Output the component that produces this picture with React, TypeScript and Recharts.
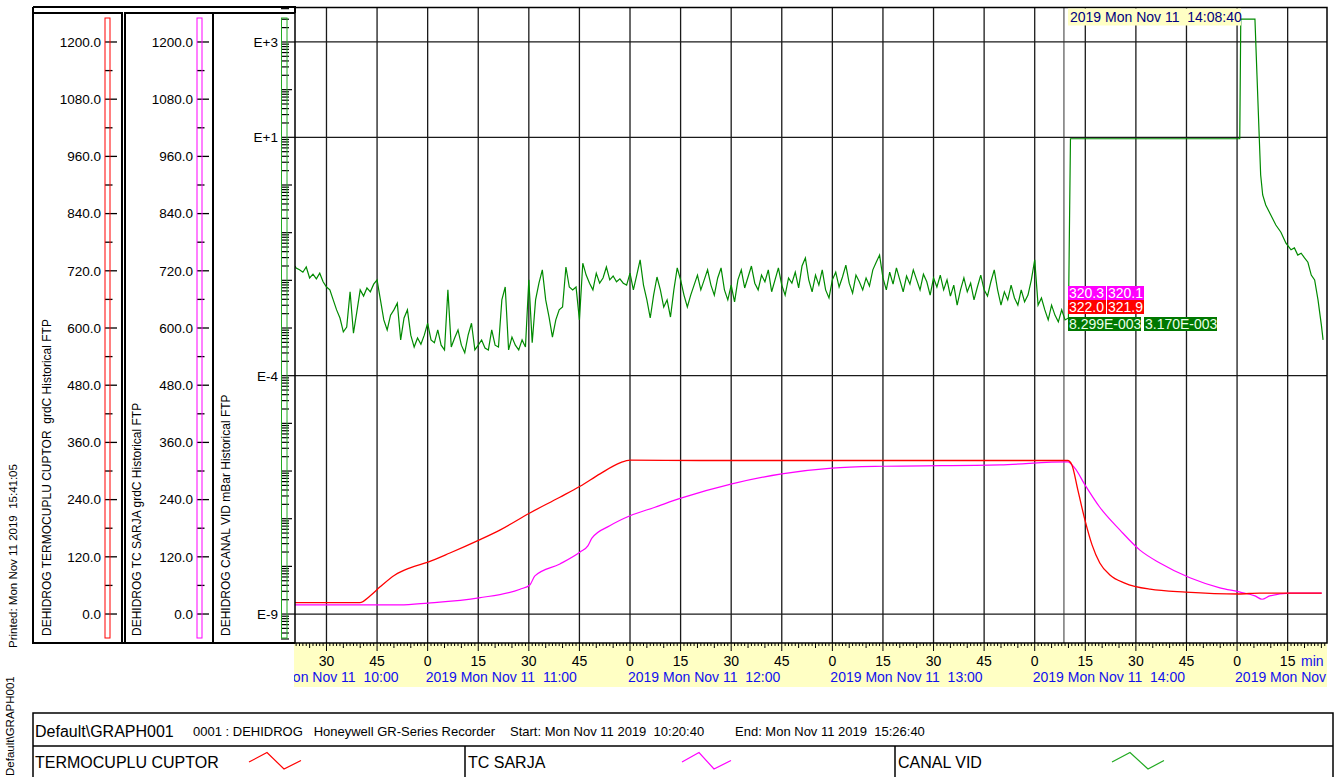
import React from 'react';
import { ComposedChart, Line, XAxis, YAxis, ReferenceLine } from 'recharts';

const FONT = '"Liberation Sans", Arial, Helvetica, sans-serif';

// Time is expressed in minutes after 10:00, Mon Nov 11 2019
const START_MIN = 20 + 40 / 60; // 10:20:40
const END_MIN = 326 + 40 / 60; // 15:26:40
const CURSOR_MIN = 248 + 40 / 60; // 14:08:40

// TERMOCUPLU CUPTOR (grdC)
const redTimes = [20.67, 39.9, 42.9, 45.9, 50.3, 54.8, 60.1, 66.6, 75.2, 81.4, 90.3, 99.2, 105.2, 111.1, 117.0, 120.0, 140.7, 200, 249.8, 251.0, 252.8, 254.9, 257.0, 259.3, 262.3, 266.7, 274.2, 284.8, 300.3, 306.8, 315.7, 325.1];
const redValues = [24, 24, 38, 57, 82, 97, 109, 128, 155, 176, 212, 245, 268, 294, 317, 323, 322, 322, 322, 313, 260, 197, 145, 107, 82, 65, 52, 46, 42, 44, 44, 44];

// TC SARJA (grdC)
const sarjaTimes = [20.67, 51.8, 60.1, 75.2, 87.4, 90.3, 91.8, 99.2, 105.2, 107.5, 108.7, 114.0, 120.0, 127.4, 135.1, 150.2, 165.0, 179.9, 195.3, 229.7, 249.8, 251.9, 254.9, 259.3, 265.3, 271.2, 277.1, 286.0, 294.9, 300.9, 305.3, 307.4, 309.7, 315.7, 325.1];
const sarjaValues = [19, 19, 23, 34, 52, 61, 80, 105, 130, 143, 159, 185, 206, 224, 243, 273, 294, 306, 310, 313, 319, 306, 271, 224, 176, 134, 107, 76, 55, 46, 38, 31, 38, 44, 44];

// CANAL VID (mBar), stored as decimal exponents (log10 of mBar)
const vacHeadTimes = [20.67];
const vacHeadExp = [-1.70];
const vacMinuteFirst = 21; // one reading per minute from 10:21 to 14:09
const vacMinuteExp = [
  -1.74, -1.78, -1.83, -1.72, -1.95, -1.87, -1.97, -1.85, -2.03, -2.14,
  -2.20, -2.41, -2.62, -2.79, -3.08, -2.98, -2.24, -3.11, -2.66, -2.20,
  -2.33, -2.16, -2.24, -2.08, -1.99, -2.41, -2.83, -3.04, -2.73, -2.62,
  -2.48, -3.25, -2.79, -2.62, -3.15, -3.40, -3.21, -3.34, -3.15, -2.90,
  -3.25, -3.31, -3.04, -3.36, -3.46, -2.20, -3.40, -3.21, -3.04, -3.36,
  -3.52, -3.15, -2.90, -3.46, -3.36, -3.25, -3.42, -3.46, -3.04, -3.36,
  -3.40, -2.41, -2.14, -3.46, -3.19, -3.36, -3.46, -3.25, -3.40, -1.99,
  -3.31, -2.41, -2.06, -1.78, -2.41, -2.77, -3.19, -2.83, -2.62, -2.56,
  -1.72, -2.14, -2.20, -2.14, -2.83, -1.64, -1.89, -2.06, -2.20, -1.85,
  -2.06, -1.95, -1.72, -1.99, -1.91, -2.03, -1.97, -2.06, -2.10, -1.85,
  -2.20, -1.89, -1.57, -2.10, -2.41, -2.79, -2.31, -1.93, -2.20, -2.56,
  -2.41, -2.77, -2.20, -1.74, -1.99, -2.31, -2.56, -2.31, -2.10, -1.89,
  -2.20, -1.99, -1.78, -2.10, -2.31, -1.95, -1.74, -2.20, -2.41, -2.10,
  -2.45, -1.99, -1.78, -2.16, -1.93, -1.70, -2.06, -2.20, -1.89, -2.03,
  -1.78, -2.24, -1.99, -1.74, -2.10, -2.31, -1.95, -2.06, -1.83, -2.16,
  -1.70, -1.53, -1.99, -2.24, -1.89, -2.10, -1.78, -2.20, -2.37, -1.99,
  -1.83, -2.14, -1.93, -1.68, -2.06, -2.27, -1.89, -2.03, -2.20, -1.95,
  -2.12, -1.78, -1.62, -1.47, -1.95, -2.20, -1.83, -2.08, -1.74, -1.99,
  -2.24, -1.91, -2.08, -1.78, -1.99, -2.20, -1.87, -2.03, -2.31, -1.95,
  -2.14, -1.89, -2.20, -1.99, -2.33, -2.10, -2.52, -2.20, -1.95, -2.24,
  -2.06, -2.41, -2.14, -1.89, -2.20, -2.33, -2.03, -1.78, -2.20, -2.52,
  -2.24, -2.41, -2.10, -2.37, -2.52, -2.20, -2.45, -2.31, -1.99, -1.57,
  -2.52, -2.37, -2.62, -2.83, -2.52, -2.73, -2.87, -2.62, -2.83,
];
const vacTailTimes = [250, 250.6, 300.8, 301.1, 305.3, 305.9, 306.5, 307, 307.6, 308.5, 310, 311.5, 313, 314.5, 316, 317, 318, 319, 320, 321, 322, 323, 324, 325, 325.5];
const vacTailExp = [-2.79, 0.97, 0.97, 3.48, 3.48, 2.31, 1.15, 0.21, -0.21, -0.42, -0.63, -0.84, -0.99, -1.22, -1.36, -1.32, -1.47, -1.43, -1.53, -1.62, -1.89, -1.99, -2.41, -2.94, -3.25];

// Axis tick values / labels
const tempMajorTicks = [0, 120, 240, 360, 480, 600, 720, 840, 960, 1080, 1200];
const tempMinorTicks = [60, 180, 300, 420, 540, 660, 780, 900, 1020, 1140];
const vacLabelValues = [1e3, 1e1, 1e-4, 1e-9];
const vacLabelText = ['E+3', 'E+1', 'E-4', 'E-9'];
const gridMinutes = [30, 45, 60, 75, 90, 105, 120, 135, 150, 165, 180, 195, 210, 225, 240, 255, 270, 285, 300, 315];
const hourLabels = ['2019 Mon Nov 11  10:00', '2019 Mon Nov 11  11:00', '2019 Mon Nov 11  12:00', '2019 Mon Nov 11  13:00', '2019 Mon Nov 11  14:00', '2019 Mon Nov 11  15:00'];
const cursorLabel = '2019 Mon Nov 11  14:08:40';
const cursorSarja = ['320.3', '320.1'];
const cursorRed = ['322.0', '321.9'];
const cursorVac = ['8.299E-003', '3.170E-003'];

const RED = '#ff0000';
const MAG = '#ff00ff';
const GREEN = '#008a00';

// axis ids (alphabetical order = from the plot outwards)
const VAC = 'a_vac';
const SARJA = 'b_sarja';
const CUPTOR = 'c_cuptor';

const redData = redTimes.map((t, i) => ({ t, v: redValues[i] }));
const sarjaData = sarjaTimes.map((t, i) => ({ t, v: sarjaValues[i] }));
const vacData = [
  ...vacHeadTimes.map((t, i) => ({ t, v: Math.pow(10, vacHeadExp[i]) })),
  ...vacMinuteExp.map((e, i) => ({ t: vacMinuteFirst + i, v: Math.pow(10, e) })),
  ...vacTailTimes.map((t, i) => ({ t, v: Math.pow(10, vacTailExp[i]) })),
];

const tempTicks = [...tempMajorTicks, ...tempMinorTicks].sort((a, b) => a - b);
const vacTicks: number[] = [];
for (let n = -10; n <= 3; n++) {
  for (let k = 1; k <= 9; k++) {
    const v = k * Math.pow(10, n);
    if (v >= 2.47e-10 && v <= 5160) vacTicks.push(v);
  }
}
const minuteTicks: number[] = [];
for (let m = 21; m <= 326; m++) minuteTicks.push(m);

const makeTempTick = (rectOffset: number, labelOffset: number) => (props: any) => {
  const { x, y, payload } = props;
  const v = payload.value as number;
  const major = tempMajorTicks.indexOf(v) >= 0;
  const x0 = x - rectOffset;
  return (
    <g>
      <line x1={x0} x2={x0 + (major ? 12 : 7.5)} y1={y} y2={y} stroke="#000" strokeWidth={1.3} />
      {major && (
        <text x={x - labelOffset} y={y} dy="0.36em" textAnchor="end" fontSize={13.5} fontFamily={FONT} fill="#000">
          {v.toFixed(1)}
        </text>
      )}
    </g>
  );
};

const VacTick = (props: any) => {
  const { x, y, payload } = props;
  const v = payload.value as number;
  const idx = vacLabelValues.findIndex((l) => Math.abs(l - v) / l < 1e-6);
  const lg = Math.log10(v);
  const decade = Math.abs(lg - Math.round(lg)) < 1e-6;
  const x0 = x - 14;
  return (
    <g>
      <line x1={x0} x2={x0 + (decade ? 11 : 8)} y1={y} y2={y} stroke="#000" strokeWidth={1.2} />
      {idx >= 0 && (
        <g>
          <line x1={x0 + 11} x2={x} y1={y} y2={y} stroke="#000" strokeWidth={1.2} strokeDasharray="3 2" />
          <text x={x - 17} y={y} dy="0.36em" textAnchor="end" fontSize={13.5} fontFamily={FONT} fill="#000">
            {vacLabelText[idx]}
          </text>
        </g>
      )}
    </g>
  );
};

const TimeTick = (props: any) => {
  const { x, y, payload } = props;
  const t = Math.round(payload.value as number);
  const m = t % 60;
  const len = m % 15 === 0 ? 8 : m % 5 === 0 ? 5 : 3;
  return (
    <g>
      <line x1={x} x2={x} y1={y} y2={y + len} stroke="#000" strokeWidth={1} />
      {m % 15 === 0 && (
        <text x={x} y={y + 23} textAnchor="middle" fontSize={14} fontFamily={FONT} fill="#000">
          {m}
        </text>
      )}
      {m === 0 && (
        <text x={x - 2} y={y + 39} fontSize={14} fontFamily={FONT} fill="#1010ee" style={{ whiteSpace: 'pre' }} clipPath="url(#timeBandClip)">
          {hourLabels[t / 60]}
        </text>
      )}
      {t === 30 && (
        <text x={x + 72} y={y + 39} textAnchor="end" fontSize={14} fontFamily={FONT} fill="#1010ee" style={{ whiteSpace: 'pre' }} clipPath="url(#timeBandClip)">
          {hourLabels[0]}
        </text>
      )}
    </g>
  );
};

const RotText = ({ x, y, size, children }: { x: number; y: number; size: number; children: string }) => (
  <text
    x={0}
    y={0}
    transform={`translate(${x},${y}) rotate(-90)`}
    fontSize={size}
    fontFamily={FONT}
    fill="#000"
    dominantBaseline="central"
    style={{ whiteSpace: 'pre' }}
  >
    {children}
  </text>
);

export default function App() {
  return (
    <div style={{ position: 'absolute', left: 0, top: 0, width: 1339, height: 777, background: '#fff', overflow: 'hidden', fontFamily: FONT }}>
      <svg width={1339} height={777} style={{ position: 'absolute', left: 0, top: 0 }}>
        <defs>
          <clipPath id="timeBandClip">
            <rect x={294} y={643} width={1033} height={44} />
          </clipPath>
        </defs>
        <rect x={294} y={643} width={1033} height={44} fill="#ffffc4" />
      </svg>
      <div style={{ position: 'absolute', left: 0, top: 0 }}>
        <ComposedChart width={1339} height={777} margin={{ top: 8, right: 12, bottom: 90, left: 0 }}>
          <XAxis
            dataKey="t"
            type="number"
            domain={[START_MIN, END_MIN]}
            allowDataOverflow
            ticks={minuteTicks}
            interval={0}
            height={44}
            tickSize={0}
            tickMargin={0}
            tickLine={false}
            axisLine={false}
            tick={TimeTick}
          />
          <YAxis
            yAxisId={VAC}
            orientation="left"
            width={81}
            type="number"
            scale="log"
            domain={[2.47e-10, 5160]}
            allowDataOverflow
            ticks={vacTicks}
            interval={0}
            tickSize={0}
            tickMargin={0}
            tickLine={false}
            axisLine={false}
            tick={VacTick}
          />
          <YAxis
            yAxisId={SARJA}
            orientation="left"
            width={89}
            type="number"
            domain={[-60.8, 1271.3]}
            allowDataOverflow
            ticks={tempTicks}
            interval={0}
            tickSize={0}
            tickMargin={0}
            tickLine={false}
            axisLine={false}
            tick={makeTempTick(17, 21)}
          />
          <YAxis
            yAxisId={CUPTOR}
            orientation="left"
            width={125}
            type="number"
            domain={[-60.8, 1271.3]}
            allowDataOverflow
            ticks={tempTicks}
            interval={0}
            tickSize={0}
            tickMargin={0}
            tickLine={false}
            axisLine={false}
            tick={makeTempTick(20, 24)}
          />
          {gridMinutes.map((m) => (
            <ReferenceLine key={'g' + m} x={m} yAxisId={VAC} stroke="#1a1a1a" strokeWidth={1.3} />
          ))}
          {vacLabelValues.map((v) => (
            <ReferenceLine key={'h' + v} y={v} yAxisId={VAC} stroke="#1a1a1a" strokeWidth={1.3} />
          ))}
          <ReferenceLine x={CURSOR_MIN} yAxisId={VAC} stroke="#333" strokeWidth={1} />
          <Line data={vacData} dataKey="v" yAxisId={VAC} type="linear" stroke={GREEN} strokeWidth={1.2} dot={false} isAnimationActive={false} />
          <Line data={sarjaData} dataKey="v" yAxisId={SARJA} type="monotone" stroke={MAG} strokeWidth={1.2} dot={false} isAnimationActive={false} />
          <Line data={redData} dataKey="v" yAxisId={CUPTOR} type="monotone" stroke={RED} strokeWidth={1.3} dot={false} isAnimationActive={false} />
        </ComposedChart>
      </div>
      <svg width={1339} height={777} style={{ position: 'absolute', left: 0, top: 0, pointerEvents: 'none' }}>
        {/* left panel frames */}
        <path d="M33,7 H295 V13" fill="none" stroke="#000" strokeWidth={2} />
        <rect x={33} y={13} width={89} height={630} fill="none" stroke="#000" strokeWidth={2} />
        <rect x={125} y={13} width={88} height={630} fill="none" stroke="#000" strokeWidth={2} />
        <path d="M213,13 H295 M33,643 H295" fill="none" stroke="#000" strokeWidth={2} />
        <line x1={33} x2={33} y1={7} y2={13} stroke="#000" strokeWidth={2} />
        {/* axis colour columns */}
        <rect x={105} y={18} width={5} height={620} fill="none" stroke={RED} strokeWidth={1} />
        <rect x={197} y={18} width={5} height={620} fill="none" stroke={MAG} strokeWidth={1} />
        <rect x={281.5} y={18} width={5.5} height={620} fill="none" stroke="#22aa22" strokeWidth={1} />
        {/* rotated axis titles */}
        <RotText x={46.5} y={636} size={12}>{'DEHIDROG TERMOCUPLU CUPTOR  grdC Historical FTP'}</RotText>
        <RotText x={136.5} y={636} size={12}>{'DEHIDROG TC SARJA grdC Historical FTP'}</RotText>
        <RotText x={226} y={636} size={12}>{'DEHIDROG CANAL VID mBar Historical FTP'}</RotText>
        <RotText x={12.5} y={648} size={11.5}>{'Printed: Mon Nov 11 2019  15:41:05'}</RotText>
        <RotText x={10} y={776} size={11.5}>{'Default\\GRAPH001'}</RotText>
        {/* plot frame */}
        <rect x={295} y={7.5} width={1032} height={635.5} fill="none" stroke="#000" strokeWidth={1.5} />
        {/* cursor label */}
        <rect x={1068} y={8.5} width={173} height={17} fill="#ffffc4" />
        <text x={1070} y={22} fontSize={14} fontFamily={FONT} fill="#000080" style={{ whiteSpace: 'pre' }}>{cursorLabel}</text>
        {/* cursor value boxes */}
        <rect x={1068} y={286} width={38} height={14} fill={MAG} />
        <rect x={1107} y={286} width={37} height={14} fill={MAG} />
        <rect x={1068} y={300} width={38} height={14} fill={RED} />
        <rect x={1107} y={300} width={37} height={14} fill={RED} />
        <rect x={1068} y={317} width={73} height={14} fill="#007800" />
        <rect x={1144} y={317} width={73} height={14} fill="#007800" />
        <text x={1069} y={298} fontSize={14} fontFamily={FONT} fill="#fff">{cursorSarja[0]}</text>
        <text x={1108} y={298} fontSize={14} fontFamily={FONT} fill="#fff">{cursorSarja[1]}</text>
        <text x={1069} y={312} fontSize={14} fontFamily={FONT} fill="#fff">{cursorRed[0]}</text>
        <text x={1108} y={312} fontSize={14} fontFamily={FONT} fill="#fff">{cursorRed[1]}</text>
        <text x={1069} y={329} fontSize={14} fontFamily={FONT} fill="#eaffea">{cursorVac[0]}</text>
        <text x={1145} y={329} fontSize={14} fontFamily={FONT} fill="#eaffea">{cursorVac[1]}</text>
        {/* time unit */}
        <text x={1301} y={666} fontSize={14} fontFamily={FONT} fill="#1010ee">min</text>
        {/* legend table */}
        <rect x={33} y={713} width={1300} height={80} fill="none" stroke="#000" strokeWidth={1.5} />
        <line x1={33} x2={1333} y1={746} y2={746} stroke="#000" strokeWidth={1.5} />
        <line x1={465} x2={465} y1={746} y2={777} stroke="#000" strokeWidth={1.5} />
        <line x1={895} x2={895} y1={746} y2={777} stroke="#000" strokeWidth={1.5} />
        <text x={35} y={737} fontSize={16} fontFamily={FONT} fill="#000">{'Default\\GRAPH001'}</text>
        <text x={193} y={736} fontSize={13} fontFamily={FONT} fill="#000" style={{ whiteSpace: 'pre' }}>{'0001 : DEHIDROG   Honeywell GR-Series Recorder'}</text>
        <text x={510} y={736} fontSize={13} fontFamily={FONT} fill="#000" style={{ whiteSpace: 'pre' }}>{'Start: Mon Nov 11 2019  10:20:40'}</text>
        <text x={735} y={736} fontSize={13} fontFamily={FONT} fill="#000" style={{ whiteSpace: 'pre' }}>{'End: Mon Nov 11 2019  15:26:40'}</text>
        <text x={35} y={768} fontSize={16} fontFamily={FONT} fill="#000">TERMOCUPLU CUPTOR</text>
        <text x={468} y={768} fontSize={16} fontFamily={FONT} fill="#000">TC SARJA</text>
        <text x={898} y={768} fontSize={16} fontFamily={FONT} fill="#000">CANAL VID</text>
        <polyline points="249,762 267,752.5 284,769 301,760.5" fill="none" stroke={RED} strokeWidth={1.2} />
        <polyline points="682,762 699,752.5 714,769 731,760.5" fill="none" stroke={MAG} strokeWidth={1.2} />
        <polyline points="1112,762 1130,752.5 1148,769 1164,760.5" fill="none" stroke="#22aa22" strokeWidth={1.2} />
      </svg>
    </div>
  );
}
